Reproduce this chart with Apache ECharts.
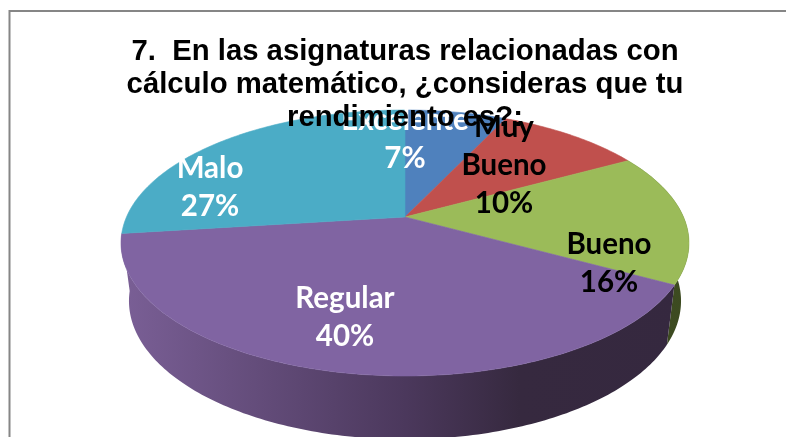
<!DOCTYPE html>
<html><head><meta charset="utf-8">
<style>html,body{margin:0;padding:0;background:#fff}#c{width:786px;height:437px}</style>
<script src="https://cdn.jsdelivr.net/npm/echarts@6/dist/echarts.min.js"></script>
</head><body><div id="c"></div>
<script>
const categories = ['Excelente', 'Muy\nBueno', 'Bueno', 'Regular', 'Malo'];
const values = [7, 10, 16, 40, 27];
const topColors = ['#4f81bd', '#c0504d', '#9bbb59', '#8064a2', '#4bacc6'];
const labelColors = ['#ffffff', '#000000', '#000000', '#ffffff', '#ffffff'];
const sideStops = [
  [['#3f5f85'], ['#2a3f58']],
  [['#8a3836'], ['#5c2524']],
  [['#55672f'], ['#3c4a20']],
  [['#7a5f96'], ['#4b385c'], ['#36293f'], ['#35283f']],
  [['#357a8c'], ['#2a6070']]
];
const titleText = '7.  En las asignaturas relacionadas con\ncálculo matemático, ¿consideras que tu\nrendimiento es?:';

// Layout of the tilted pie (pixels): perspective projection of a circle.
const apex = { x: 405, y: 217 };
const persp = 0.1955, sx = 278.5, sy = 127.9;
const base = { scale: 0.972, yScale: 1.04, ellipseTop: 243, ellipseBase: 301 };
const labelLayout = [[405, 120], [504, 127], [609, 244], [345, 298], [210, 168]];
const labelFont = 29.5, labelLine = 38;

const total = values.reduce((a, b) => a + b, 0);
function angleAt(frac) { return frac * 2 * Math.PI; }
function project(theta, r) {
  const x = Math.sin(theta) * r, y = -Math.cos(theta) * r;
  const w = 1 - persp * y;
  return [apex.x + sx * x / w, apex.y + sy * y / w];
}
function lower(p) {
  return [apex.x + (p[0] - apex.x) * base.scale,
          base.ellipseBase + (p[1] - base.ellipseTop) * base.yScale];
}
function sliceRange(i) {
  let cum = 0;
  for (let k = 0; k < i; k++) cum += values[k];
  return [angleAt(cum / total), angleAt((cum + values[i]) / total)];
}
function slicePoints(i) {
  const [a0, a1] = sliceRange(i);
  const n = Math.max(8, Math.round(values[i] * 4));
  const arc = [];
  for (let k = 0; k <= n; k++) arc.push(project(a0 + (a1 - a0) * k / n, 1));
  return arc;
}
function renderSide(params) {
  const i = params.dataIndex;
  const [a0, a1] = sliceRange(i);
  const mid = (a0 + a1) / 2;
  // Only slices facing the viewer show a wall.
  if (Math.cos(mid) > 0) return { type: 'group', children: [] };
  const arc = slicePoints(i);
  const pts = arc.concat(arc.map(lower).reverse());
  const stops = sideStops[i];
  const grad = new echarts.graphic.LinearGradient(122, 0, 690, 0,
    stops.map((s, k) => ({ offset: stops.length === 4 ? [0, 0.5, 0.7, 1][k] : k, color: s[0] })), true);
  return { type: 'polygon', shape: { points: pts }, style: { fill: grad, stroke: null } };
}
function renderTop(params) {
  const i = params.dataIndex;
  const arc = slicePoints(i);
  const pts = [[apex.x, apex.y]].concat(arc);
  return { type: 'polygon', shape: { points: pts },
    style: { fill: topColors[i], stroke: topColors[i], lineWidth: 0.6 } };
}
function renderLabel(params) {
  const i = params.dataIndex;
  const lines = (categories[i] + '\n' + values[i] + '%');
  return { type: 'text', x: labelLayout[i][0], y: labelLayout[i][1] - labelLine / 2,
    style: { text: lines, fill: labelColors[i], font: 'bold ' + labelFont + 'px Lato',
      lineHeight: labelLine, align: 'center', verticalAlign: 'top' } };
}
const seriesData = categories.map((c, i) => ({ name: c, value: values[i] }));
const chart = echarts.init(document.getElementById('c'), null, { renderer: 'canvas' });
chart.setOption({
  animation: false,
  backgroundColor: '#ffffff',
  graphic: [{ type: 'rect', z: 0, shape: { x: 9.5, y: 11, width: 800, height: 440 },
    style: { fill: '#ffffff', stroke: '#868686', lineWidth: 2 } }],
  title: { text: titleText, left: 400, top: 30, textAlign: 'center', z: 10,
    textStyle: { fontFamily: 'Liberation Sans', fontWeight: 'bold', fontSize: 29.3, lineHeight: 33, color: '#000' } },
  series: [
    { type: 'custom', coordinateSystem: 'none', z: 2, clip: false, silent: true, renderItem: renderSide, data: seriesData },
    { type: 'custom', coordinateSystem: 'none', z: 3, clip: false, silent: true, renderItem: renderTop, data: seriesData },
    { type: 'custom', coordinateSystem: 'none', z: 4, clip: false, silent: true, renderItem: renderLabel, data: seriesData }
  ]
});
</script></body></html>
